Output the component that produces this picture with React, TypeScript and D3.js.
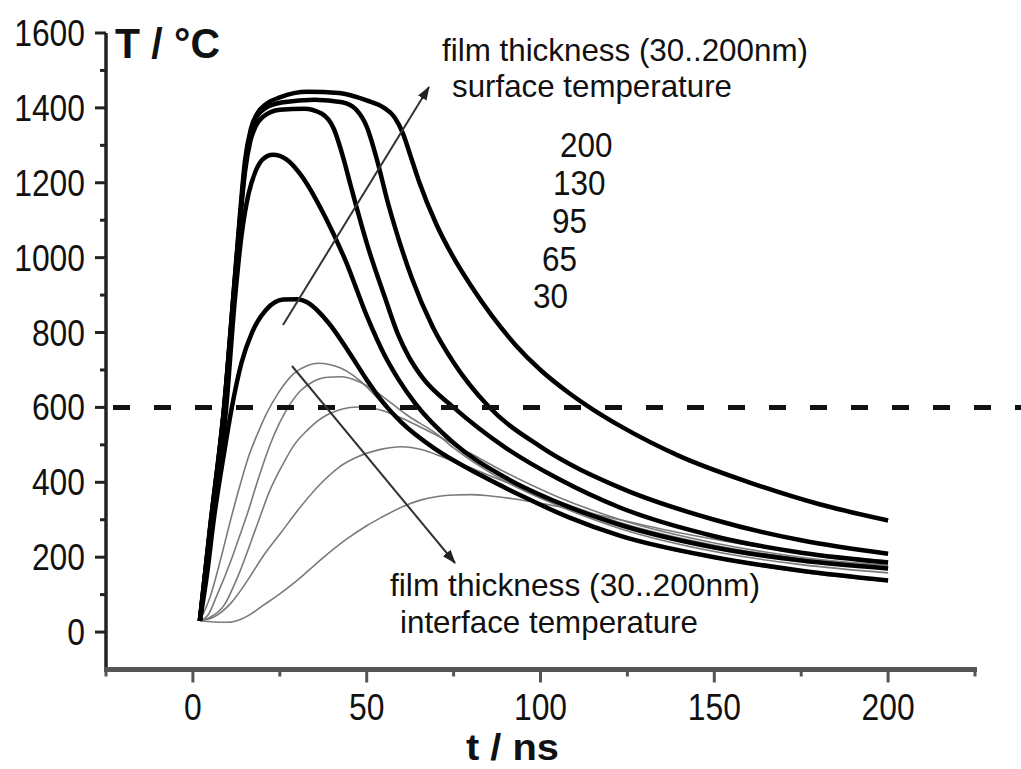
import React from 'react';
import * as d3 from 'd3';

const W = 1021;
const H = 769;

// Axis ticks
const xMajorTicks = [0, 50, 100, 150, 200];
const xMinorTicks = [-25, 25, 75, 125, 175, 225];
const yMajorTicks = [0, 200, 400, 600, 800, 1000, 1200, 1400, 1600];
const yMinorTicks = [100, 300, 500, 700, 900, 1100, 1300, 1500];

const thicknessLabels = ['200', '130', '95', '65', '30'];
const threshold = 600;

// Surface temperature (thick black) [t ns, T °C]
const surface30: [number, number][] = [
  [2, 30], [4, 150], [6, 300], [9, 480], [11, 590], [14, 720], [17, 800], [21, 860], [26, 888], [30, 889],
  [33, 880], [39, 826], [45, 746], [50, 674], [55, 610], [60, 560], [70, 487], [83, 418], [95, 362],
  [108, 307], [123, 257], [150, 200], [175, 164], [200, 138],
];
const surface65: [number, number][] = [
  [2, 30], [5, 260], [9.5, 590], [12, 880], [14, 1060], [16, 1170], [18, 1230], [20, 1262], [23, 1275],
  [27, 1262], [31, 1222], [38, 1110], [44, 990], [50, 845], [55, 742], [59, 677], [64, 610], [75, 505],
  [90, 412], [105, 346], [123, 286], [150, 226], [175, 191], [200, 170],
];
const surface95: [number, number][] = [
  [2, 30], [5, 280], [9, 600], [12, 930], [13.5, 1090], [15, 1230], [16.5, 1310], [18, 1350], [20, 1375],
  [25, 1395], [32, 1398], [37, 1385], [40.5, 1345], [43.4, 1262], [45.4, 1192], [50.3, 1030], [55, 900],
  [59, 795], [62, 737], [66, 680], [75, 600], [90, 492], [105, 410], [123, 332], [150, 256], [175, 212], [200, 186],
];
const surface130: [number, number][] = [
  [2, 30], [5, 280], [9, 600], [12, 935], [13.5, 1100], [15, 1245], [16.5, 1330], [18, 1370], [21, 1400],
  [26, 1415], [35, 1422], [43, 1415], [47, 1395], [50, 1350], [53, 1260], [56, 1150], [59, 1055], [63, 945],
  [69, 815], [75, 720], [85, 603], [100, 495], [123, 385], [150, 300], [175, 245], [200, 209],
];
const surface200: [number, number][] = [
  [2, 30], [5, 285], [9, 605], [12, 940], [13.5, 1110], [15, 1260], [16.7, 1345], [18.5, 1385], [21, 1410],
  [25, 1428], [33, 1443], [42, 1440], [50, 1420], [55, 1400], [58, 1375], [60.5, 1330], [62.5, 1275],
  [65, 1205], [70, 1090], [75, 1000], [80, 925], [86, 845], [93, 765], [100, 700], [108, 640], [115, 595],
  [123, 550], [140, 470], [160, 400], [180, 342], [200, 298],
];

// Interface temperature (thin grey)
const interface30: [number, number][] = [
  [2, 30], [5, 95], [8, 195], [11, 305], [13.8, 400], [16, 468], [18.7, 532], [21, 580], [24.4, 636],
  [29, 690], [33, 712], [36, 718], [42.5, 705], [50, 655], [55, 605], [60, 557], [70, 484], [83, 415], [95, 359],
  [108, 304], [123, 254], [150, 197], [175, 160], [200, 135],
];
const interface65: [number, number][] = [
  [2, 30], [4.3, 45], [7, 100], [10.9, 190], [13, 245], [15.8, 320], [19, 415], [22.4, 505], [25, 560],
  [28.2, 612], [31, 645], [34.8, 670], [38, 680], [42.5, 682], [48, 668], [53, 640], [57, 612], [62, 577],
  [70, 530], [75, 492], [90, 402], [105, 338], [123, 276], [150, 215], [175, 180], [200, 158],
];
const interface95: [number, number][] = [
  [2, 30], [5, 40], [9, 72], [13, 150], [18.7, 292], [22, 375], [26, 450], [29, 498], [33, 540], [36, 565],
  [39.7, 585], [43, 596], [47.4, 601], [51, 599], [54, 593], [60, 572], [66, 545], [75, 502], [90, 426],
  [105, 361], [123, 300], [150, 238], [175, 200], [200, 178],
];
const interface130: [number, number][] = [
  [2, 30], [6, 40], [11, 78], [16, 142], [20, 200], [25.3, 265], [31, 335], [37.6, 404], [42, 440], [46, 462],
  [54, 488], [60, 495], [66, 487], [72, 467], [80, 438], [90, 401], [105, 350], [123, 292], [150, 232],
  [175, 196], [200, 175],
];
const interface200: [number, number][] = [
  [2, 30], [6, 27], [10, 26], [14, 35], [17, 50], [20, 70], [25, 102], [30, 138], [37, 195], [44.5, 250],
  [50, 284], [54, 305], [60.6, 336], [65, 351], [70.4, 362], [75, 366], [80, 367], [85, 364], [92, 356],
  [100, 344], [117, 312], [140, 265], [170, 218], [200, 190],
];

const surfaceSeries = [surface30, surface65, surface95, surface130, surface200];
const interfaceSeries = [interface30, interface65, interface95, interface130, interface200];

const FONT = '"Liberation Sans", Arial, Helvetica, sans-serif';

type TxtProps = {
  x: number; y: number; size: number; w?: number; anchor?: 'start' | 'middle' | 'end';
  bold?: boolean; children: React.ReactNode; fill?: string;
};
function Txt({ x, y, size, w, anchor = 'start', bold = false, children, fill = '#111' }: TxtProps) {
  return (
    <text
      x={x}
      y={y}
      fontSize={size}
      fontFamily={FONT}
      fontWeight={bold ? 'bold' : 'normal'}
      textAnchor={anchor}
      fill={fill}
      {...(w ? { textLength: w, lengthAdjust: 'spacingAndGlyphs' } : {})}
    >
      {children}
    </text>
  );
}

export default function App() {
  const x = d3.scaleLinear().domain([-25, 225]).range([106, 975]);
  const y = d3.scaleLinear().domain([-100, 1600]).range([669.5, 33]);

  const line = d3
    .line<[number, number]>()
    .x((d) => x(d[0]))
    .y((d) => y(d[1]))
    .curve(d3.curveMonotoneX);

  const digitW = 17.7;
  const labelYs = [157, 195, 233, 271, 308];
  const labelXs = [560, 553, 552, 542, 533];

  return (
    <svg width={W} height={H} style={{ position: 'absolute', left: 0, top: 0, background: '#fff' }}>
      <defs>
        <marker id="ah" markerUnits="userSpaceOnUse" markerWidth={14} markerHeight={10} refX={13} refY={5} orient="auto">
          <path d="M0,0 L14,5 L0,10 z" fill="#222" />
        </marker>
      </defs>
      <rect x={0} y={0} width={W} height={H} fill="#fff" />

      {/* interface curves */}
      {interfaceSeries.map((s, i) => (
        <path key={'i' + i} d={line(s) || ''} fill="none" stroke="#7a7a7a" strokeWidth={1.6} />
      ))}
      {/* surface curves */}
      {surfaceSeries.map((s, i) => (
        <path key={'s' + i} d={line(s) || ''} fill="none" stroke="#000" strokeWidth={4.5} strokeLinejoin="round" />
      ))}

      {/* threshold dashed line */}
      <line x1={113} x2={W} y1={y(threshold)} y2={y(threshold)} stroke="#111" strokeWidth={5} strokeDasharray="17 24" />

      {/* arrows */}
      <line x1={283} y1={325} x2={429} y2={87} stroke="#333" strokeWidth={2} markerEnd="url(#ah)" />
      <line x1={292} y1={366} x2={455} y2={563} stroke="#333" strokeWidth={2} markerEnd="url(#ah)" />

      {/* axes */}
      <line x1={106} x2={106} y1={y(1600)} y2={y(-100)} stroke="#222" strokeWidth={3.5} />
      <line x1={104} x2={x(225) + 2} y1={y(-100)} y2={y(-100)} stroke="#555" strokeWidth={5} />
      {yMajorTicks.map((v) => (
        <g key={'ym' + v}>
          <line x1={95} x2={106} y1={y(v)} y2={y(v)} stroke="#222" strokeWidth={3} />
          <Txt x={85} y={y(v) + 13} size={37} anchor="end" w={digitW * String(v).length}>{v}</Txt>
        </g>
      ))}
      {yMinorTicks.map((v) => (
        <line key={'yn' + v} x1={100} x2={106} y1={y(v)} y2={y(v)} stroke="#222" strokeWidth={3} />
      ))}
      {xMajorTicks.map((v) => (
        <g key={'xm' + v}>
          <line x1={x(v)} x2={x(v)} y1={y(-100)} y2={y(-100) + 13} stroke="#555" strokeWidth={3} />
          <Txt x={x(v)} y={720} size={37} anchor="middle" w={digitW * String(v).length}>{v}</Txt>
        </g>
      ))}
      {xMinorTicks.map((v) => (
        <line key={'xn' + v} x1={x(v)} x2={x(v)} y1={y(-100)} y2={y(-100) + 7} stroke="#555" strokeWidth={3} />
      ))}

      {/* axis titles */}
      <Txt x={115} y={58} size={42} bold w={105}>T / °C</Txt>
      <Txt x={466} y={760} size={37} bold w={93}>t / ns</Txt>

      {/* annotations */}
      <Txt x={442} y={61} size={32} w={366}>film thickness (30..200nm)</Txt>
      <Txt x={452} y={97} size={32} w={280}>surface temperature</Txt>
      {thicknessLabels.map((t, i) => (
        <Txt key={t} x={labelXs[i]} y={labelYs[i]} size={35} w={t.length * 17.5}>{t}</Txt>
      ))}
      <Txt x={390} y={596} size={32} w={370}>film thickness (30..200nm)</Txt>
      <Txt x={400} y={633} size={32} w={298}>interface temperature</Txt>
    </svg>
  );
}
